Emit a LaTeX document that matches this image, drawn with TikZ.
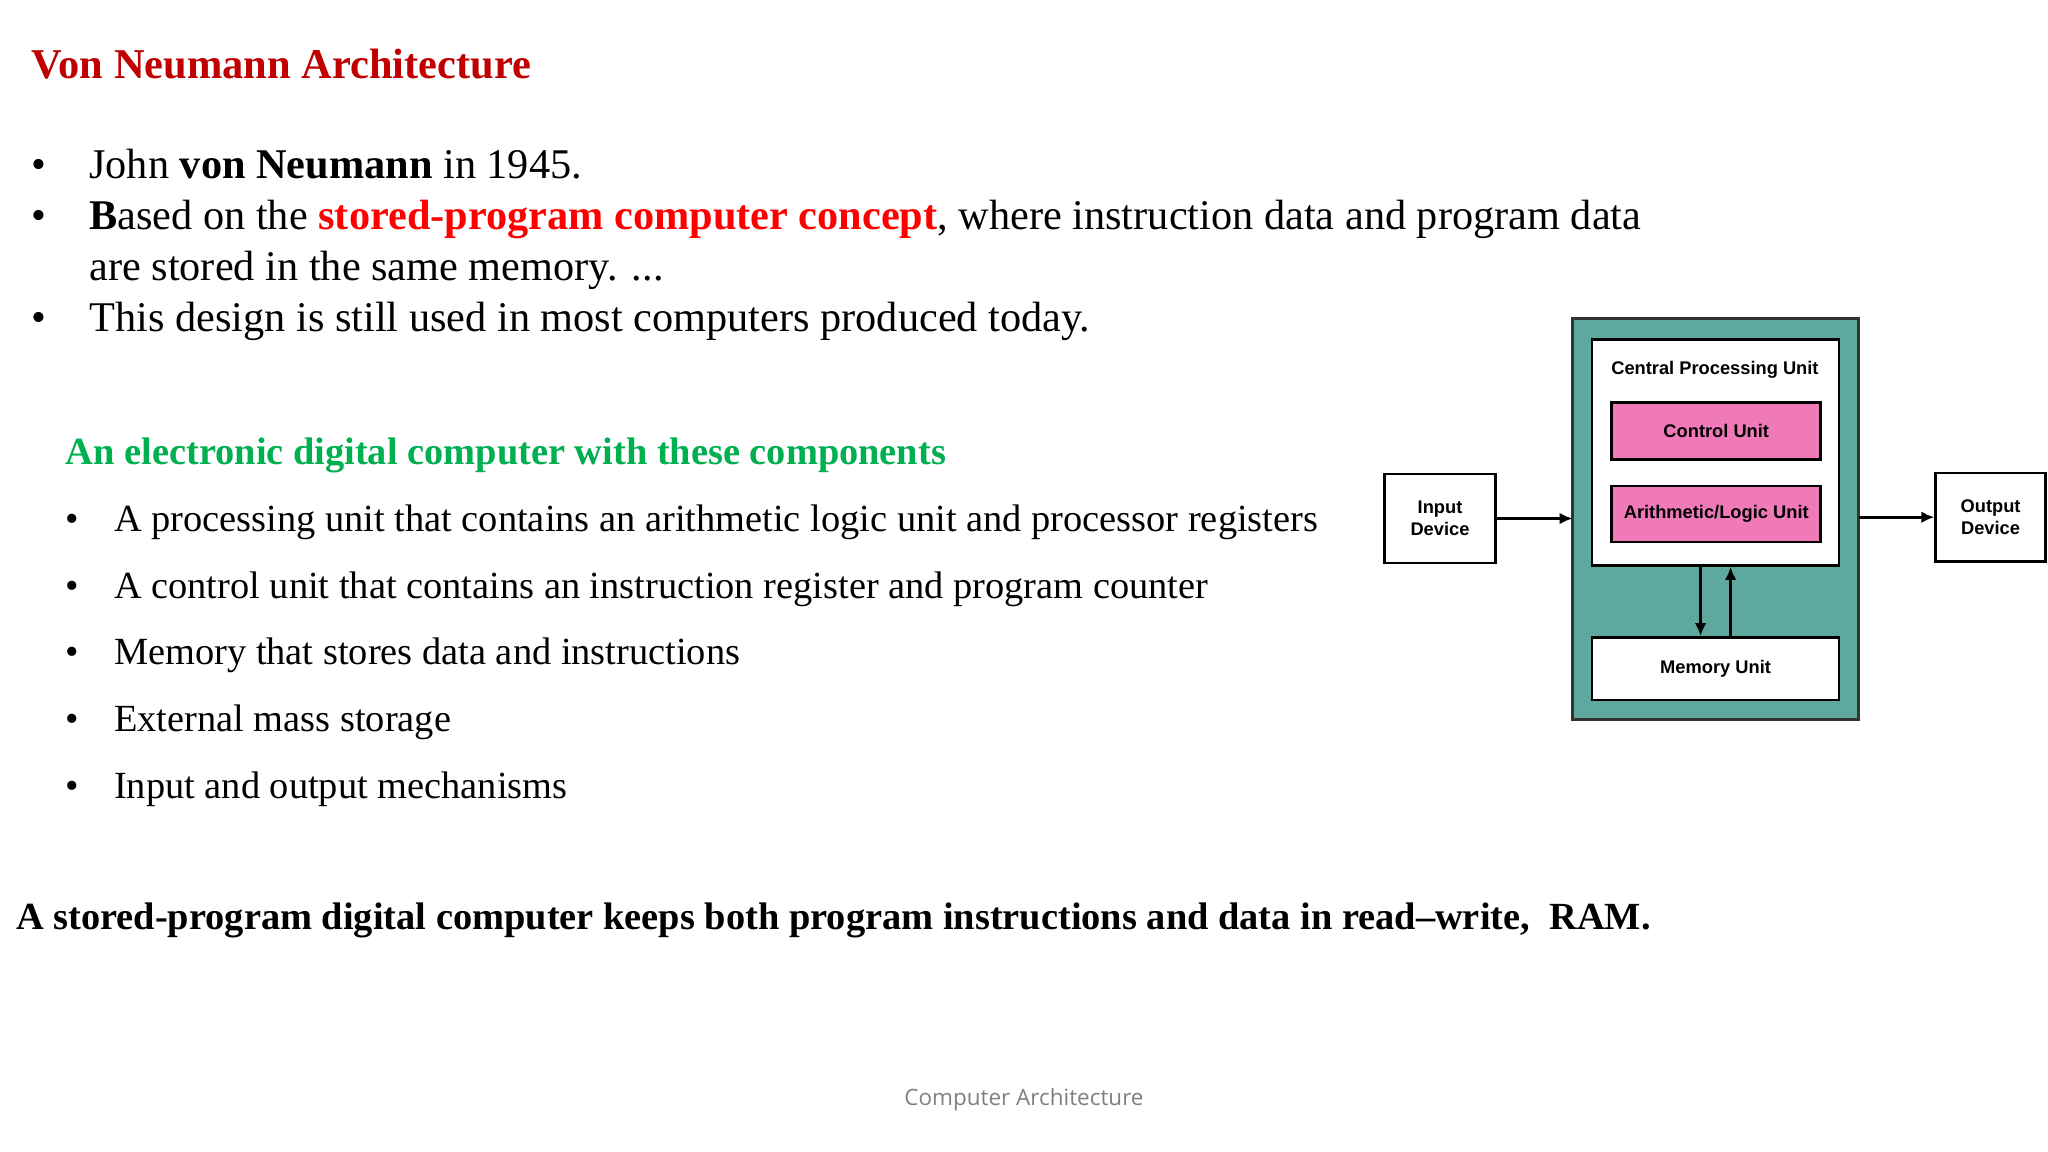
\documentclass[tikz,border=0pt]{standalone}
\usepackage{fontspec}
\setmainfont{Liberation Serif}
\setsansfont{Liberation Sans}
\newfontfamily\footfont{Open Sans}
\usetikzlibrary{arrows.meta}
\definecolor{ttl}{HTML}{C00000}
\definecolor{hot}{HTML}{FF0000}
\definecolor{grn}{HTML}{00B050}
\definecolor{teal}{HTML}{5FA89F}
\definecolor{pinkbox}{HTML}{F07AB8}
\tikzset{
 txt/.style={anchor=base west,inner sep=0pt,font=\fontsize{16.2}{19}\selectfont},
 sub/.style={anchor=base west,inner sep=0pt,font=\fontsize{14.7}{17}\selectfont},
 box/.style={draw=black,line width=1pt,fill=white,font=\sffamily\bfseries\fontsize{7}{8.5}\selectfont,align=center,inner sep=0pt},
 arr/.style={-{Latex[length=5pt,width=4.5pt]},line width=1.1pt}
}
\begin{document}
\begin{tikzpicture}[x=0.5pt,y=-0.5pt]
\useasboundingbox[fill=white] (0,0) rectangle (1568,882);
\node[txt,font=\bfseries\fontsize{16.25}{19}\selectfont,text=ttl] (title) at (24,60) {Von Neumann Architecture};
\foreach \y/\n in {137/b1,176/b2,254/b4}{\node[txt] (\n d) at (24,\y) {\textbullet};}
\node[txt] (b1) at (68,137) {John \textbf{von Neumann} in 1945.};
\node[txt] (b2) at (68,176) {\textbf{B}ased on the \textbf{\color{hot}stored-program computer concept}, where instruction data and program data};
\node[txt] (b3) at (68,215) {are stored in the same memory. ...};
\node[txt] (b4) at (68,254) {This design is still used in most computers produced today.};
\node[sub,font=\bfseries\fontsize{14.7}{17}\selectfont,text=grn] (gh) at (50,356) {An electronic digital computer with these components};
\foreach \y/\t [count=\i] in {407/A processing unit that contains an arithmetic logic unit and processor registers,458/A control unit that contains an instruction register and program counter,509/Memory that stores data and instructions,560/External mass storage,611/Input and output mechanisms}{
 \node[sub] (sd\i) at (50,\y) {\textbullet};
 \node[sub] (s\i) at (87,\y) {\t};}
\node[sub,font=\bfseries\fontsize{14.7}{17}\selectfont] (bot) at (12,712) {A stored-program digital computer keeps both program instructions and data in read--write,\ \ RAM.};
\node[text=gray,font=\footfont\fontsize{8.6}{10}\selectfont] (foot) at (784,842) {Computer Architecture};
% diagram
\draw[fill=teal,draw=black!80,line width=1pt] (1204,244) rectangle (1423,551);
\node[box,minimum width=94.5pt,minimum height=86.5pt] (cpu) at (1313.5,346.5) {};
\node[font=\sffamily\bfseries\fontsize{7}{8.5}\selectfont] (cpul) at (1313,283) {Central Processing Unit};
\node[box,fill=pinkbox,minimum width=80pt,minimum height=22pt] (cu) at (1314,330) {Control Unit};
\node[box,fill=pinkbox,minimum width=80pt,minimum height=21.5pt] (alu) at (1314,393.5) {Arithmetic/Logic Unit};
\node[box,minimum width=94.5pt,minimum height=24pt] (mem) at (1313.5,512) {Memory Unit};
\node[box,minimum width=42.5pt,minimum height=34pt] (in) at (1102.5,397) {Input\\Device};
\node[box,minimum width=42pt,minimum height=34pt] (out) at (1524,396) {Output\\Device};
\coordinate (tin) at (1204,397);
\coordinate (tout) at (1423,396);
\draw[arr] (in.east) -- (tin);
\draw[arr] (tout) -- (out.west);
\draw[arr] (cpu.south -| 1302,0) -- (mem.north -| 1302,0);
\draw[arr] (mem.north -| 1325,0) -- (cpu.south -| 1325,0);
\end{tikzpicture}
\end{document}
